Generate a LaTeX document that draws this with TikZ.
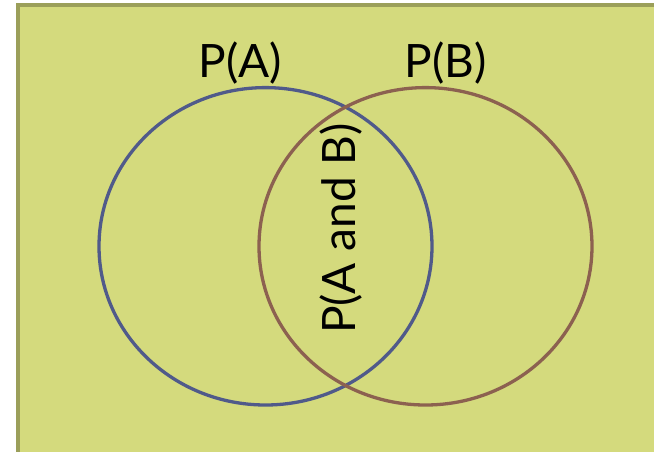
\documentclass[tikz,border=0pt]{standalone}
\usepackage{fontspec}
\setmainfont{Lato}
\definecolor{bgfill}{HTML}{D4DA7D}
\definecolor{bgedge}{HTML}{9B9F5A}
\definecolor{setA}{HTML}{505A8A}
\definecolor{setB}{HTML}{8C6150}
\tikzset{
  setring/.style={line width=3.3pt, draw=#1},
  lbl/.style={font=\fontsize{46}{52}\selectfont, inner sep=0pt, text=black},
}
\begin{document}
\begin{tikzpicture}[x=1pt,y=-1pt]
\useasboundingbox (0,0) rectangle (654,451);
\path[fill=white] (0,0) rectangle (654,451);
\draw[fill=bgfill, draw=bgedge, line width=4pt] (18,5) rectangle (660,460);
\draw[setring=setA] (265.5,246.3) ellipse [x radius=166.5, y radius=158.7];
\draw[setring=setB] (425.5,246.3) ellipse [x radius=166.5, y radius=158.7];
\node[lbl, anchor=base] (pa) at (240.5,77) {P(A)};
\node[lbl, anchor=base] (pb) at (445.5,77) {P(B)};
\node[lbl, anchor=base, rotate=90] (pab) at (355,228.5) {P(A and B)};
\end{tikzpicture}
\end{document}
